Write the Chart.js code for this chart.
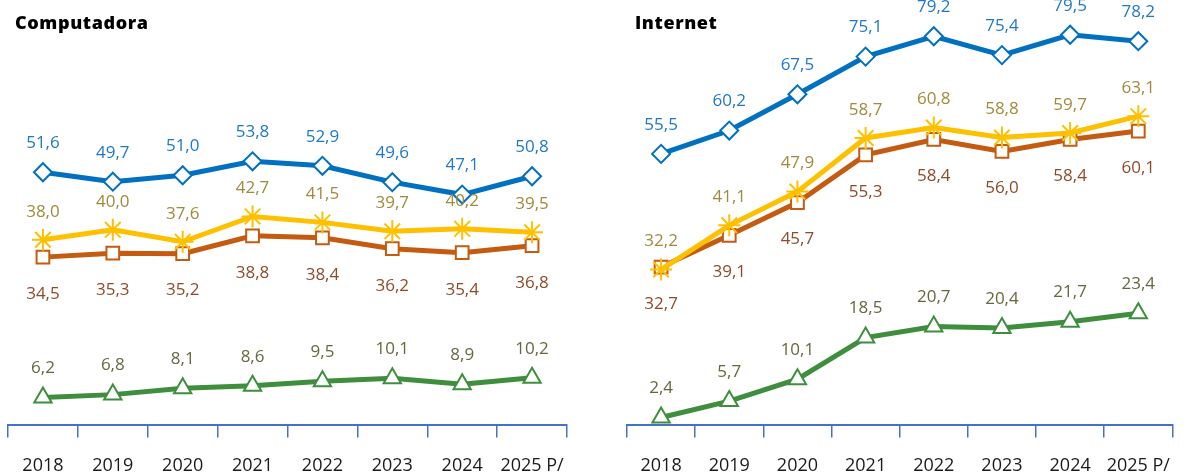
<!DOCTYPE html>
<html>
<head>
<meta charset="utf-8">
<script src="https://cdn.jsdelivr.net/npm/chart.js@4"></script>
<style>
  html, body { margin:0; padding:0; background:#fff; }
  #wrap { position:relative; width:1188px; height:475px; overflow:hidden; }
  canvas { position:absolute; top:0; }
  .ttl { position:absolute; top:10px; font-family:"Open Sans", sans-serif; font-weight:800; font-size:18px; color:#000; letter-spacing:0.6px; }
</style>
</head>
<body>
<div id="wrap">
  <canvas id="c1" width="594" height="495" style="left:0"></canvas>
  <canvas id="c2" width="594" height="495" style="left:594px"></canvas>
  <div class="ttl" style="left:15px">Computadora</div>
  <div class="ttl" style="left:635px">Internet</div>
</div>
<script>
const years = ["2018","2019","2020","2021","2022","2023","2024","2025 P/"];

// Computadora
const compBlue   = [51.6, 49.7, 51.0, 53.8, 52.9, 49.6, 47.1, 50.8];
const compYellow = [38.0, 40.0, 37.6, 42.7, 41.5, 39.7, 40.2, 39.5];
const compOrange = [34.5, 35.3, 35.2, 38.8, 38.4, 36.2, 35.4, 36.8];
const compGreen  = [6.2, 6.8, 8.1, 8.6, 9.5, 10.1, 8.9, 10.2];

// Internet
const netBlue   = [55.5, 60.2, 67.5, 75.1, 79.2, 75.4, 79.5, 78.2];
const netYellow = [32.2, 41.1, 47.9, 58.7, 60.8, 58.8, 59.7, 63.1];
const netOrange = [32.7, 39.1, 45.7, 55.3, 58.4, 56.0, 58.4, 60.1];
const netGreen  = [2.4, 5.7, 10.1, 18.5, 20.7, 20.4, 21.7, 23.4];

const FONT = '"Open Sans", sans-serif';
const fmt = v => v.toFixed(1).replace('.', ',');

const valueLabels = {
  id: 'valueLabels',
  afterDatasetsDraw(chart) {
    const ctx = chart.ctx;
    chart.data.datasets.forEach((ds, i) => {
      const meta = chart.getDatasetMeta(i);
      ctx.save();
      ctx.font = '17px ' + FONT;
      ctx.fillStyle = ds.labelColor;
      ctx.textAlign = 'center';
      ctx.textBaseline = 'middle';
      meta.data.forEach((pt, j) => {
        ctx.fillText(fmt(ds.data[j]), pt.x, pt.y + ds.labelOffset);
      });
      ctx.restore();
    });
  }
};

function makeSeries(blue, yellow, orange, green) {
  return [
    { label: 'Serie 1', data: blue, borderColor: '#0070C0', labelColor: '#1F78C8', labelOffset: -29,
      pointStyle: 'rectRot', pointRadius: 9, pointBorderWidth: 2, pointBackgroundColor: '#fff', pointBorderColor: '#0070C0' },
    { label: 'Serie 2', data: yellow, borderColor: '#FFC000', labelColor: '#A08A3C', labelOffset: -28,
      pointStyle: 'star', pointRadius: 11, pointBorderWidth: 2, pointBackgroundColor: '#FFC000', pointBorderColor: '#FFC000' },
    { label: 'Serie 3', data: orange, borderColor: '#C55A11', labelColor: '#8E4B2A', labelOffset: 37,
      pointStyle: 'rect', pointRadius: 9, pointBorderWidth: 2, pointBackgroundColor: '#fff', pointBorderColor: '#C55A11' },
    { label: 'Serie 4', data: green, borderColor: '#3E8E3E', labelColor: '#67673F', labelOffset: -29,
      pointStyle: 'triangle', pointRadius: 10, pointBorderWidth: 2, pointBackgroundColor: '#fff', pointBorderColor: '#3E8E3E' }
  ].map(d => Object.assign({ borderWidth: 5, tension: 0, clip: false, fill: false }, d));
}

function makeChart(id, datasets, ymin, ymax, padL, padR) {
  return new Chart(document.getElementById(id), {
    type: 'line',
    data: { labels: years, datasets },
    options: {
      responsive: false,
      devicePixelRatio: 1,
      animation: false,
      layout: { autoPadding: false, padding: { left: padL, right: padR, top: 0, bottom: 0 } },
      plugins: { legend: { display: false }, tooltip: { enabled: false }, title: { display: false } },
      scales: {
        x: {
          offset: true,
          grid: { display: true, drawOnChartArea: false, drawTicks: true, tickLength: 12, color: '#4472C4', lineWidth: 1.5, offset: true },
          border: { display: true, color: '#4472C4', width: 2 },
          ticks: { color: '#1a1a1a', font: { family: FONT, size: 18 }, padding: 18, maxRotation: 0, autoSkip: false }
        },
        y: { display: false, min: ymin, max: ymax }
      }
    },
    plugins: [valueLabels]
  });
}

makeChart('c1', makeSeries(compBlue, compYellow, compOrange, compGreen), 0.6, 86.3, 8, 27);
makeChart('c2', makeSeries(netBlue, netYellow, netOrange, netGreen), 0.8, 86.5, 33, 1);
</script>
</body>
</html>
